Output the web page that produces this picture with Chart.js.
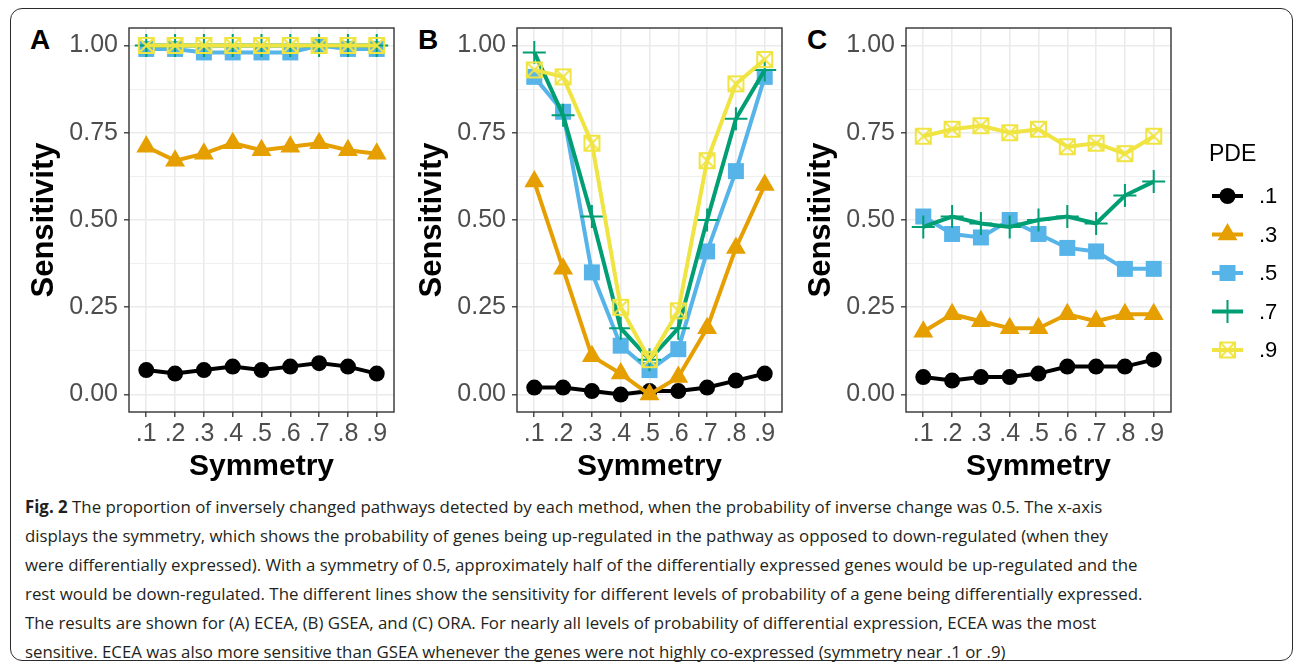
<!DOCTYPE html>
<html>
<head>
<meta charset="utf-8">
<script src="https://cdn.jsdelivr.net/npm/chart.js@4.4.0/dist/chart.umd.min.js"></script>
<style>
  body { margin: 0; background: #fff; width: 1295px; height: 662px; overflow: hidden; position: relative; font-family: "Liberation Sans", Arial, sans-serif; }
  #frame { position: absolute; left: 10px; top: 8px; width: 1283px; height: 653px; border: 1.5px solid #2b2b2b; border-radius: 12px; box-sizing: border-box; }
  .panel { position: absolute; top: 20px; height: 465px; }
  .letter { position: absolute; top: 26px; font-size: 28px; line-height: 28px; font-weight: bold; color: #000; }
  #caption { position: absolute; left: 25px; top: 492px; font-family: "Open Sans", sans-serif; font-size: 17px; line-height: 29px; color: #231f20; white-space: nowrap; transform: scaleX(0.99); transform-origin: 0 0; }
</style>
</head>
<body>
<div id="frame"></div>
<div class="letter" style="left:30px">A</div>
<div class="letter" style="left:418px">B</div>
<div class="letter" style="left:807px">C</div>
<canvas id="panelA" class="panel" style="left:20px" width="380" height="465"></canvas>
<canvas id="panelB" class="panel" style="left:408px" width="380" height="465"></canvas>
<canvas id="panelC" class="panel" style="left:797px" width="493" height="465"></canvas>
<div id="caption">
<b>Fig. 2</b> The proportion of inversely changed pathways detected by each method, when the probability of inverse change was 0.5. The x-axis<br>
displays the symmetry, which shows the probability of genes being up-regulated in the pathway as opposed to down-regulated (when they<br>
were differentially expressed). With a symmetry of 0.5, approximately half of the differentially expressed genes would be up-regulated and the<br>
rest would be down-regulated. The different lines show the sensitivity for different levels of probability of a gene being differentially expressed.<br>
The results are shown for (A) ECEA, (B) GSEA, and (C) ORA. For nearly all levels of probability of differential expression, ECEA was the most<br>
sensitive. ECEA was also more sensitive than GSEA whenever the genes were not highly co-expressed (symmetry near .1 or .9)
</div>
<script>
// x categories (symmetry) and legend levels (PDE)
const symmetry = ['.1', '.2', '.3', '.4', '.5', '.6', '.7', '.8', '.9'];
const pdeLevels = ['.1', '.3', '.5', '.7', '.9'];

// y axis ticks
const yMajor = [0, 0.25, 0.5, 0.75, 1];
const yMajorLabels = ['0.00', '0.25', '0.50', '0.75', '1.00'];
const yMinor = [0.125, 0.375, 0.625, 0.875];

// Panel A (ECEA)
const ecea_1 = [0.07, 0.06, 0.07, 0.08, 0.07, 0.08, 0.09, 0.08, 0.06];
const ecea_3 = [0.71, 0.67, 0.69, 0.72, 0.70, 0.71, 0.72, 0.70, 0.69];
const ecea_5 = [0.99, 0.99, 0.98, 0.98, 0.98, 0.98, 1.00, 0.99, 0.99];
const ecea_7 = [1.00, 1.00, 1.00, 1.00, 1.00, 1.00, 1.00, 1.00, 1.00];
const ecea_9 = [1.00, 1.00, 1.00, 1.00, 1.00, 1.00, 1.00, 1.00, 1.00];

// Panel B (GSEA)
const gsea_1 = [0.02, 0.02, 0.01, 0.00, 0.01, 0.01, 0.02, 0.04, 0.06];
const gsea_3 = [0.61, 0.36, 0.11, 0.06, 0.00, 0.05, 0.19, 0.42, 0.60];
const gsea_5 = [0.91, 0.81, 0.35, 0.14, 0.07, 0.13, 0.41, 0.64, 0.91];
const gsea_7 = [0.98, 0.80, 0.51, 0.19, 0.10, 0.19, 0.50, 0.79, 0.93];
const gsea_9 = [0.93, 0.91, 0.72, 0.25, 0.10, 0.24, 0.67, 0.89, 0.96];

// Panel C (ORA)
const ora_1 = [0.05, 0.04, 0.05, 0.05, 0.06, 0.08, 0.08, 0.08, 0.10];
const ora_3 = [0.18, 0.23, 0.21, 0.19, 0.19, 0.23, 0.21, 0.23, 0.23];
const ora_5 = [0.51, 0.46, 0.45, 0.50, 0.46, 0.42, 0.41, 0.36, 0.36];
const ora_7 = [0.48, 0.51, 0.49, 0.48, 0.50, 0.51, 0.49, 0.57, 0.61];
const ora_9 = [0.74, 0.76, 0.77, 0.75, 0.76, 0.71, 0.72, 0.69, 0.74];

const pdeColors = ['#000000', '#E69F00', '#56B4E9', '#009E73', '#F0E442'];

Chart.defaults.font.family = '"Liberation Sans", Arial, sans-serif';

// Square with an X for the .9 level
function crossedSquare(color) {
    const c = document.createElement('canvas');
    c.width = 19;
    c.height = 19;
    const g = c.getContext('2d');
    g.strokeStyle = color;
    g.lineWidth = 2;
    g.strokeRect(2, 2, 15, 15);
    g.beginPath();
    g.moveTo(2, 2); g.lineTo(17, 17);
    g.moveTo(17, 2); g.lineTo(2, 17);
    g.stroke();
    return c;
}

const pointLooks = [
    { pointStyle: 'circle', pointRadius: 8, pointBorderWidth: 0 },
    { pointStyle: 'triangle', pointRadius: 11.5, pointBorderWidth: 0 },
    { pointStyle: 'rect', pointRadius: 11.3, pointBorderWidth: 0 },
    { pointStyle: 'cross', pointRadius: 11.5, pointBorderWidth: 2 },
    { pointStyle: crossedSquare('#F0E442'), pointRadius: 9, pointBorderWidth: 0 }
];

function buildDatasets(seriesList) {
    return seriesList.map((values, i) => Object.assign({
        label: pdeLevels[i],
        data: values.map((v, j) => ({ x: j + 1, y: v })),
        borderColor: pdeColors[i],
        backgroundColor: pdeColors[i],
        pointBackgroundColor: pdeColors[i],
        pointBorderColor: pdeColors[i],
        borderWidth: 4,
        order: seriesList.length - i,
        clip: false
    }, pointLooks[i]));
}

// Panel border drawn over everything, like ggplot's theme_bw
const panelBox = {
    id: 'panelBox',
    afterDatasetsDraw(chart) {
        const a = chart.chartArea;
        const ctx = chart.ctx;
        ctx.save();
        ctx.strokeStyle = '#333333';
        ctx.lineWidth = 1.4;
        ctx.strokeRect(a.left, a.top, a.right - a.left, a.bottom - a.top);
        ctx.restore();
    }
};

// ggplot-style legend with line + point keys
const pdeLegend = {
    id: 'pdeLegend',
    afterDraw(chart) {
        const ctx = chart.ctx;
        const x0 = chart.chartArea.right;
        ctx.save();
        ctx.fillStyle = '#000';
        ctx.font = '23px "Liberation Sans", Arial, sans-serif';
        ctx.textAlign = 'left';
        ctx.textBaseline = 'middle';
        ctx.fillText('PDE', x0 + 38, 135);
        chart.data.datasets.slice().sort((p, q) => q.order - p.order).forEach((ds, i) => {
            const y = 176 + i * 38.5;
            ctx.strokeStyle = ds.borderColor;
            ctx.lineWidth = 4;
            ctx.beginPath();
            ctx.moveTo(x0 + 41, y);
            ctx.lineTo(x0 + 72, y);
            ctx.stroke();
            ctx.fillStyle = ds.pointBackgroundColor;
            ctx.strokeStyle = ds.pointBorderColor;
            ctx.lineWidth = ds.pointBorderWidth;
            Chart.helpers.drawPoint(ctx, {
                pointStyle: ds.pointStyle,
                radius: ds.pointRadius,
                rotation: 0,
                borderWidth: ds.pointBorderWidth
            }, x0 + 56.5, y);
            ctx.fillStyle = '#000';
            ctx.font = '22px "Liberation Sans", Arial, sans-serif';
            ctx.fillText(ds.label, x0 + 88, y + 1);
        });
        ctx.restore();
    }
};

function makePanel(id, seriesList, rightPad, withLegend) {
    const plugins = [panelBox];
    if (withLegend) plugins.push(pdeLegend);
    return new Chart(document.getElementById(id), {
        type: 'line',
        data: { datasets: buildDatasets(seriesList) },
        plugins: plugins,
        options: {
            responsive: false,
            animation: false,
            events: [],
            layout: { autoPadding: false, padding: { top: 8, right: rightPad, left: 0, bottom: 0 } },
            plugins: { legend: { display: false }, tooltip: { enabled: false } },
            scales: {
                x: {
                    type: 'linear',
                    min: 0.4,
                    max: 9.6,
                    afterBuildTicks: s => { s.ticks = symmetry.map((_, i) => ({ value: i + 1 })); },
                    afterFit: s => { s.height = 73; s.paddingLeft = 0; s.paddingRight = 0; },
                    border: { display: false },
                    grid: { color: '#EBEBEB', lineWidth: 1.6, tickColor: '#333333', tickLength: 5, tickWidth: 1.3 },
                    ticks: {
                        autoSkip: false,
                        maxRotation: 0,
                        padding: 2,
                        color: '#4D4D4D',
                        font: { size: 25 },
                        callback: v => symmetry[v - 1]
                    },
                    title: { display: true, text: 'Symmetry', color: '#000', font: { size: 30, weight: 'bold' }, padding: { top: 1, bottom: 0 } }
                },
                y: {
                    min: -0.05,
                    max: 1.05,
                    afterBuildTicks: s => {
                        s.ticks = yMajor.concat(yMinor).sort((p, q) => p - q).map(v => ({ value: v }));
                    },
                    afterFit: s => { s.width = 109; s.paddingTop = 0; s.paddingBottom = 0; },
                    border: { display: false },
                    grid: {
                        color: '#EBEBEB',
                        lineWidth: c => (yMinor.includes(c.tick.value) ? 0.8 : 1.6),
                        tickColor: c => (yMinor.includes(c.tick.value) ? 'rgba(0,0,0,0)' : '#333333'),
                        tickLength: 5,
                        tickWidth: 1.3
                    },
                    ticks: {
                        autoSkip: false,
                        padding: 6,
                        color: '#4D4D4D',
                        font: { size: 25 },
                        callback: v => {
                            const k = yMajor.indexOf(v);
                            return k >= 0 ? yMajorLabels[k] : '';
                        }
                    },
                    title: { display: true, text: 'Sensitivity', color: '#000', font: { size: 31, weight: 'bold' }, padding: { top: 6, bottom: 0 } }
                }
            }
        }
    });
}

makePanel('panelA', [ecea_1, ecea_3, ecea_5, ecea_7, ecea_9], 6, false);
makePanel('panelB', [gsea_1, gsea_3, gsea_5, gsea_7, gsea_9], 6, false);
makePanel('panelC', [ora_1, ora_3, ora_5, ora_7, ora_9], 119, true);
</script>
</body>
</html>
